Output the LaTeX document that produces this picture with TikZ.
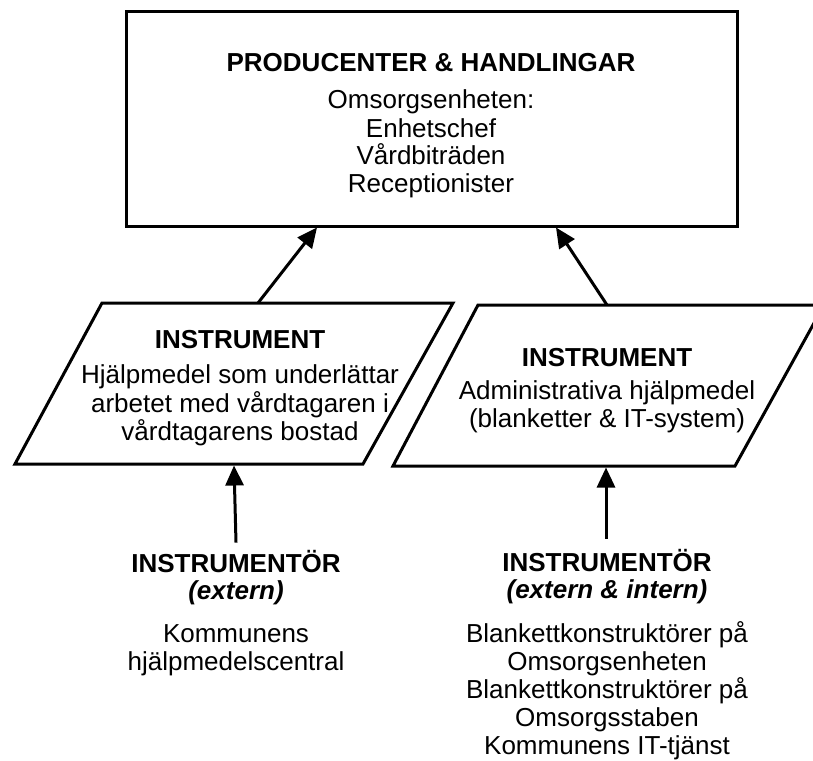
\documentclass[tikz,border=0pt]{standalone}
\usepackage{fontspec}
\setmainfont{Liberation Sans}
\usetikzlibrary{arrows.meta}
\begin{document}
\begin{tikzpicture}[x=1pt,y=-1pt,
  txt/.style={anchor=base, inner sep=0pt, font=\fontsize{26}{28}\selectfont},
  hdr/.style={anchor=base, inner sep=0pt, font=\fontsize{26}{28}\selectfont\bfseries},
  sub/.style={anchor=base, inner sep=0pt, font=\fontsize{26}{28}\selectfont\bfseries\itshape},
  frame/.style={draw, line width=3pt, line join=miter},
  arr/.style={line width=3pt, -{Triangle[length=20pt,width=18pt]}}
]
\useasboundingbox (0,0) rectangle (813,760);
\clip (0,0) rectangle (813,760);

% producers box
\node[frame, minimum width=611, minimum height=214, inner sep=0pt, outer sep=1.5pt] (prod) at (431.5,119) {};
\node[hdr] (prodT) at (431,71) {PRODUCENTER \& HANDLINGAR};
\node[txt] (prod1) at (431,108) {Omsorgsenheten:};
\node[txt] (prod2) at (431,137) {Enhetschef};
\node[txt] (prod3) at (431,164) {Vårdbiträden};
\node[txt] (prod4) at (431,192) {Receptionister};

% left instrument (parallelogram)
\coordinate (lpA) at (102,303);
\coordinate (lpB) at (453,303);
\coordinate (lpC) at (363,464);
\coordinate (lpD) at (15,464);
\draw[frame] (lpA) -- (lpB) -- (lpC) -- (lpD) -- cycle;
\coordinate (lpTop) at (258,303);
\coordinate (lpBot) at (234,465.5);
\node[hdr] (lpT) at (240,348) {INSTRUMENT};
\node[txt] (lp1) at (240,383) {Hjälpmedel som underlättar};
\node[txt] (lp2) at (240,412) {arbetet med vårdtagaren i};
\node[txt] (lp3) at (240,440) {vårdtagarens bostad};

% right instrument (parallelogram)
\coordinate (rpA) at (478,305);
\coordinate (rpB) at (824,305);
\coordinate (rpC) at (735,466);
\coordinate (rpD) at (393,466);
\draw[frame] (rpA) -- (rpB) -- (rpC) -- (rpD) -- cycle;
\coordinate (rpTop) at (607,305);
\coordinate (rpBot) at (606,467.5);
\node[hdr] (rpT) at (607,366) {INSTRUMENT};
\node[txt] (rp1) at (607,399) {Administrativa hjälpmedel};
\node[txt] (rp2) at (607,427) {(blanketter \& IT-system)};

% instrument makers
\node[hdr] (liT) at (236,572) {INSTRUMENTÖR};
\node[sub] (liS) at (236,599) {(extern)};
\node[txt] (li1) at (236,642) {Kommunens};
\node[txt] (li2) at (236,670) {hjälpmedelscentral};

\node[hdr] (riT) at (607,571) {INSTRUMENTÖR};
\node[sub] (riS) at (607,598) {(extern \& intern)};
\node[txt] (ri1) at (607,642) {Blankettkonstruktörer på};
\node[txt] (ri2) at (607,670) {Omsorgsenheten};
\node[txt] (ri3) at (607,698) {Blankettkonstruktörer på};
\node[txt] (ri4) at (607,726) {Omsorgsstaben};
\node[txt] (ri5) at (607,754) {Kommunens IT-tjänst};

% connectors
\draw[arr] (lpTop) -- ([xshift=-114.5pt]prod.south);
\draw[arr] (rpTop) -- ([xshift=124.5pt]prod.south);
\draw[arr] ([yshift=7pt]liT.north) -- (lpBot);
\draw[arr] ([xshift=-1pt,yshift=10pt]riT.north) -- (rpBot);
\end{tikzpicture}
\end{document}
